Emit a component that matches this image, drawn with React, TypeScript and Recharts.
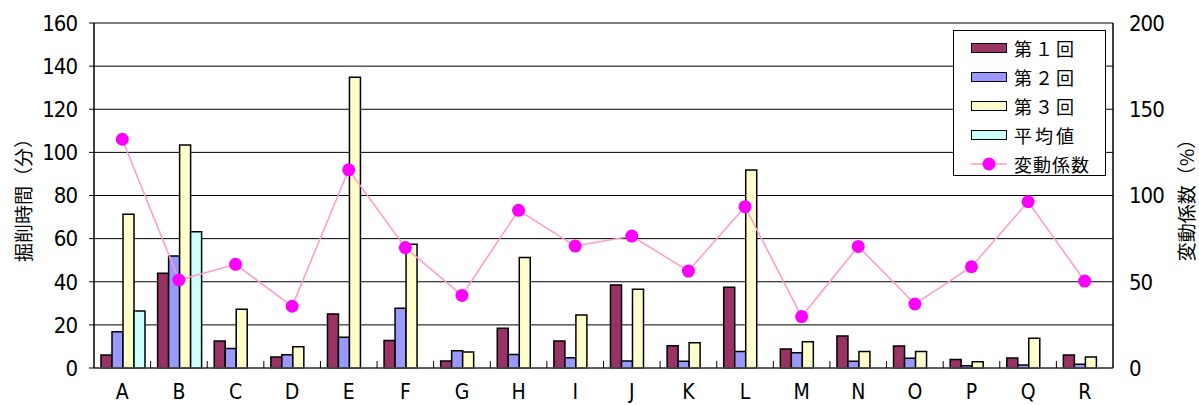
import React from 'react';
import {
    ComposedChart,
    Bar,
    Line,
    XAxis,
    YAxis,
    CartesianGrid,
    Legend,
} from 'recharts';

const categories = ['A', 'B', 'C', 'D', 'E', 'F', 'G', 'H', 'I', 'J', 'K', 'L', 'M', 'N', 'O', 'P', 'Q', 'R'];
const round1 = [6.0, 43.9, 12.5, 5.1, 25.1, 12.7, 3.2, 18.4, 12.5, 38.5, 10.3, 37.4, 8.8, 14.8, 10.2, 4.0, 4.6, 6.0];
const round2 = [16.8, 51.9, 9.1, 6.2, 14.3, 27.7, 8.0, 6.3, 4.8, 3.2, 3.1, 7.6, 7.1, 3.1, 4.5, 1.0, 1.4, 1.7];
const round3 = [71.3, 103.4, 27.2, 9.9, 134.8, 57.4, 7.4, 51.3, 24.6, 36.5, 11.7, 91.8, 12.2, 7.6, 7.6, 2.9, 13.8, 5.1];
const average = [26.4, 63.2, null, null, null, null, null, null, null, null, null, null, null, null, null, null, null, null];
const cv = [132.6, 51.0, 60.1, 35.8, 114.9, 69.8, 42.1, 91.4, 70.7, 76.5, 56.2, 93.5, 29.8, 70.5, 37.1, 58.7, 96.4, 50.4];

const leftTicks = [0, 20, 40, 60, 80, 100, 120, 140, 160];
const rightTicks = [0, 50, 100, 150, 200];

const data = categories.map((name, i) => ({
    name,
    r1: round1[i],
    r2: round2[i],
    r3: round3[i],
    avg: average[i],
    cv: cv[i],
}));

const W = 1199;
const H = 405;
const LEFT = 94;
const RIGHT_W = 86;
const PLOT_W = W - LEFT - RIGHT_W;
const HALF_BAND = PLOT_W / categories.length / 2;

const NUM_FONT = '"Liberation Sans Narrow", "DejaVu Sans Condensed", sans-serif';
const JP_FONT = '"Noto Sans CJK JP", sans-serif';

const legendItems = [
    { label: '第１回', fill: '#993366', type: 'bar' },
    { label: '第２回', fill: '#9999FF', type: 'bar' },
    { label: '第３回', fill: '#FFFFCC', type: 'bar' },
    { label: '平均値', fill: '#CCFFFF', type: 'bar' },
    { label: '変動係数', fill: '#FF00FF', type: 'line' },
];

const LegendBox = () => (
    <div
        style={{
            border: '1px solid #000',
            background: '#fff',
            width: 153,
            height: 146,
            boxSizing: 'border-box',
            padding: '2px 0 0 17px',
            fontFamily: JP_FONT,
            fontSize: 18,
            color: '#000',
        }}
    >
        {legendItems.map((it) => (
            <div key={it.label} style={{ display: 'flex', alignItems: 'center', height: 29 }}>
                {it.type === 'bar' ? (
                    <div style={{ width: 36, height: 10, background: it.fill, border: '1.5px solid #000', boxSizing: 'border-box' }} />
                ) : (
                    <svg width={36} height={14}>
                        <line x1={0} x2={36} y1={7} y2={7} stroke="#FF99CC" strokeWidth={1.5} />
                        <circle cx={18} cy={7} r={6.5} fill="#FF00FF" />
                    </svg>
                )}
                <span style={{ marginLeft: 7, letterSpacing: it.type === 'bar' ? 3 : 1 }}>{it.label}</span>
            </div>
        ))}
    </div>
);

const CategoryTick = ({ x, y, payload, index }: any) => (
    <g>
        <text x={x} y={y + 31} textAnchor="middle" fontFamily={NUM_FONT} fontSize={21} fill="#000">
            {payload.value}
        </text>
        {index < categories.length - 1 && (
            <line x1={x + HALF_BAND} x2={x + HALF_BAND} y1={y} y2={y - 7} stroke="#000" strokeWidth={1} />
        )}
    </g>
);

export default function App() {
    return (
        <div style={{ position: 'absolute', left: 0, top: 0, background: '#fff' }}>
            <ComposedChart
                width={W}
                height={H}
                data={data}
                margin={{ top: 23, right: 0, bottom: 0, left: 0 }}
                barCategoryGap={7}
                barGap={0}
            >
                <CartesianGrid vertical={false} stroke="#000" strokeWidth={1} yAxisId="left" />
                <XAxis
                    dataKey="name"
                    height={37}
                    tickSize={0}
                    tickMargin={0}
                    interval={0}
                    tick={<CategoryTick />}
                    axisLine={{ stroke: '#555', strokeWidth: 1.5 }}
                />
                <YAxis
                    yAxisId="left"
                    domain={[0, 160]}
                    ticks={leftTicks}
                    interval={0}
                    width={LEFT}
                    tickSize={5}
                    tickMargin={12}
                    tick={{ fill: '#000', fontSize: 22, fontFamily: NUM_FONT, letterSpacing: -1 }}
                    axisLine={{ stroke: '#000', strokeWidth: 1.5 }}
                    tickLine={{ stroke: '#000' }}
                    label={{
                        value: '掘削時間（分）',
                        angle: -90,
                        position: 'insideLeft',
                        offset: 24,
                        style: { fontFamily: JP_FONT, fontSize: 19, fill: '#000', textAnchor: 'middle' },
                    }}
                />
                <YAxis
                    yAxisId="right"
                    orientation="right"
                    domain={[0, 200]}
                    ticks={rightTicks}
                    interval={0}
                    width={RIGHT_W}
                    tickSize={0}
                    tickMargin={16}
                    tick={{ fill: '#000', fontSize: 22, fontFamily: NUM_FONT, letterSpacing: -1 }}
                    axisLine={{ stroke: '#000', strokeWidth: 1.5 }}
                    label={{
                        value: '変動係数（%）',
                        angle: -90,
                        position: 'insideRight',
                        offset: 12,
                        style: { fontFamily: JP_FONT, fontSize: 19, fill: '#000', textAnchor: 'middle' },
                    }}
                />
                <Legend
                    content={<LegendBox />}
                    layout="horizontal"
                    verticalAlign="middle"
                    align="center"
                    wrapperStyle={{ position: 'absolute', left: 953, top: 30, width: 'auto' }}
                />
                <Bar yAxisId="left" dataKey="r1" name="第１回" fill="#993366" stroke="#000" strokeWidth={1.5} isAnimationActive={false} />
                <Bar yAxisId="left" dataKey="r2" name="第２回" fill="#9999FF" stroke="#000" strokeWidth={1.5} isAnimationActive={false} />
                <Bar yAxisId="left" dataKey="r3" name="第３回" fill="#FFFFCC" stroke="#000" strokeWidth={1.5} isAnimationActive={false} />
                <Bar yAxisId="left" dataKey="avg" name="平均値" fill="#CCFFFF" stroke="#000" strokeWidth={1.5} isAnimationActive={false} />
                <Line
                    yAxisId="right"
                    dataKey="cv"
                    name="変動係数"
                    stroke="#FF99CC"
                    strokeWidth={1.5}
                    dot={{ r: 6.5, fill: '#FF00FF', stroke: 'none' }}
                    activeDot={false}
                    isAnimationActive={false}
                />
            </ComposedChart>
        </div>
    );
}
